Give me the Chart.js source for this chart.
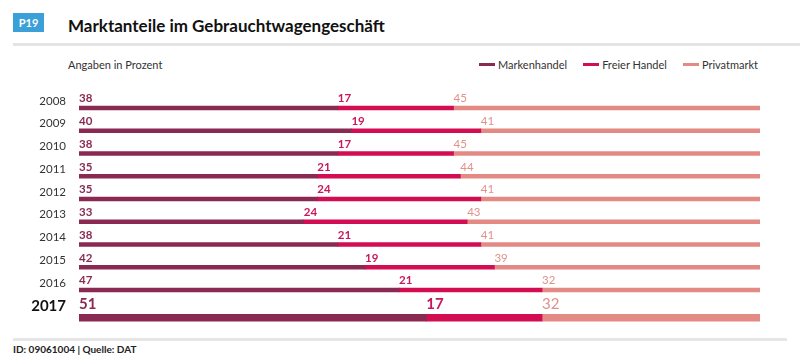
<!DOCTYPE html>
<html>
<head>
<meta charset="utf-8">
<script src="https://cdn.jsdelivr.net/npm/chart.js@4"></script>
<style>
  body { margin: 0; background: #fff; font-family: Lato, sans-serif; }
  #wrap { position: relative; width: 805px; height: 362px; overflow: hidden; }
  .badge { position: absolute; left: 13px; top: 13px; width: 31px; height: 19px; background: #3b9fd8;
           color: #fff; font: bold 11px Lato, sans-serif; line-height: 19px; text-align: center; }
  .title { position: absolute; left: 68px; top: 15px; font: bold 17px Lato, sans-serif; color: #111; }
  .rule-top { position: absolute; left: 13px; top: 43px; width: 787px; height: 3px; background: #e4e4e4; }
  .rule-bottom { position: absolute; left: 13px; top: 338px; width: 774px; height: 3px; background: #e6e6e6; }
  .sub { position: absolute; left: 68px; top: 58px; font-size: 11px; color: #333; }
  .legend { position: absolute; right: 47px; top: 58px; display: flex; font-size: 11px; color: #333; }
  .legend span { display: flex; align-items: center; margin-left: 16px; }
  .legend i { display: inline-block; width: 16px; height: 3px; margin-right: 3px; }
  .foot { position: absolute; left: 13px; top: 343px; font: bold 10px Lato, sans-serif; color: #222; }
  #chartBox { position: absolute; left: 0; top: 85px; width: 805px; height: 250px; }
</style>
</head>
<body>
<div id="wrap">
  <div class="badge">P19</div>
  <div class="title">Marktanteile im Gebrauchtwagengeschäft</div>
  <div class="rule-top"></div>
  <div class="sub">Angaben in Prozent</div>
  <div class="legend" id="legend"></div>
  <div id="chartBox"><canvas id="marktChart"></canvas></div>
  <div class="rule-bottom"></div>
  <div class="foot">ID: 09061004 | Quelle: DAT</div>
</div>
<script>
// Daten
const years = ['2008', '2009', '2010', '2011', '2012', '2013', '2014', '2015', '2016', '2017'];
const seriesNames = ['Markenhandel', 'Freier Handel', 'Privatmarkt'];
const markenhandel = [38, 40, 38, 35, 35, 33, 38, 42, 47, 51];
const freierHandel = [17, 19, 17, 21, 24, 24, 21, 19, 21, 17];
const privatmarkt = [45, 41, 45, 44, 41, 43, 41, 39, 32, 32];

const barColors = ['#8a2a52', '#d30d52', '#e38a85'];
const labelColors = ['#8a2a52', '#c8175a', '#e0918c'];

// Legende
const legendEl = document.getElementById('legend');
seriesNames.forEach(function (name, i) {
    const s = document.createElement('span');
    s.innerHTML = '<i style="background:' + barColors[i] + '"></i>' + name;
    legendEl.appendChild(s);
});

// letztes Jahr hervorheben: dickerer Balken, etwas tiefer
const highlightLast = {
    id: 'highlightLast',
    afterDatasetsUpdate: function (chart) {
        const last = years.length - 1;
        chart.data.datasets.forEach(function (ds, i) {
            const bar = chart.getDatasetMeta(i).data[last];
            if (bar) {
                bar.y += 5;
                bar.height = 7;
            }
        });
    }
};

// Werte über die Balken schreiben
const valueLabels = {
    id: 'valueLabels',
    afterDatasetsDraw: function (chart) {
        const ctx = chart.ctx;
        const last = years.length - 1;
        ctx.save();
        ctx.textAlign = 'left';
        ctx.textBaseline = 'bottom';
        chart.data.datasets.forEach(function (ds, i) {
            chart.getDatasetMeta(i).data.forEach(function (bar, j) {
                const big = j === last;
                const weight = i === 2 ? 'normal' : 'bold';
                ctx.font = weight + ' ' + (big ? 15 : 11.5) + 'px Lato, sans-serif';
                ctx.fillStyle = labelColors[i];
                const left = Math.min(bar.x, bar.base);
                ctx.fillText(ds.data[j], left, bar.y - bar.height / 2 - (big ? 3 : 1.5));
            });
        });
        ctx.restore();
    }
};

const ctx = document.getElementById('marktChart').getContext('2d');
window.marktChart = new Chart(ctx, {
    type: 'bar',
    data: {
        labels: years,
        datasets: [
            { label: seriesNames[0], data: markenhandel, backgroundColor: barColors[0] },
            { label: seriesNames[1], data: freierHandel, backgroundColor: barColors[1] },
            { label: seriesNames[2], data: privatmarkt, backgroundColor: barColors[2] }
        ]
    },
    options: {
        indexAxis: 'y',
        responsive: true,
        maintainAspectRatio: false,
        animation: false,
        barThickness: 4,
        layout: { padding: { top: 11.6, bottom: 10.9, left: 0, right: 45 } },
        plugins: {
            legend: { display: false },
            tooltip: { enabled: false }
        },
        scales: {
            x: {
                stacked: true,
                min: 0,
                max: 100,
                display: false
            },
            y: {
                stacked: true,
                grid: { display: false, drawTicks: false },
                border: { display: false },
                afterFit: function (scale) {
                    scale.width = 79;
                    scale.paddingTop = 0;
                    scale.paddingBottom = 0;
                },
                ticks: {
                    padding: 13,
                    labelOffset: -7,
                    color: function (c) { return c.index === years.length - 1 ? '#111' : '#333'; },
                    font: function (c) {
                        return c.index === years.length - 1
                            ? { family: 'Lato', size: 15, weight: 'bold' }
                            : { family: 'Lato', size: 11.5 };
                    }
                }
            }
        }
    },
    plugins: [highlightLast, valueLabels]
});
</script>
</body>
</html>
